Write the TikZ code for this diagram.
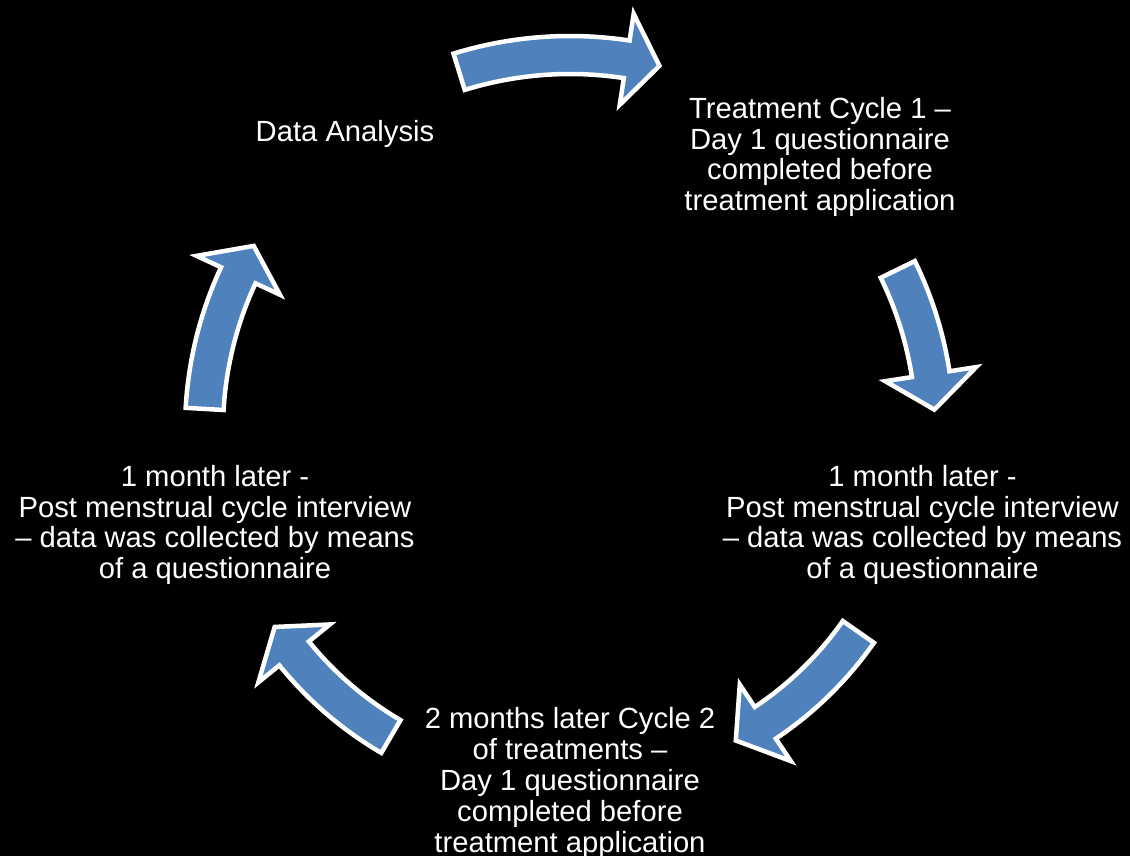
\documentclass[tikz,border=0pt]{standalone}
\usepackage{fontspec}
\setmainfont{Liberation Sans}
\usepackage{xcolor}
\usepackage{tikz}

\definecolor{cycleblue}{HTML}{4F81BD}
\tikzset{
  steptext/.style={text=white, align=center, inner sep=0pt,
    font=\fontsize{29.2}{30.8}\selectfont},
  cyclearrow/.style={fill=cycleblue, draw=white, line width=4.5pt},
}

\begin{document}
\begin{tikzpicture}[x=1pt,y=1pt]
  \fill[black] (0,0) rectangle (1130,856);
  \useasboundingbox (0,0) rectangle (1130,856);

  \node[steptext] (analysis) at (345,722) {Data Analysis};
  \node[steptext] (cycleone) at (820,699) {Treatment Cycle 1 --\\Day 1 questionnaire\\completed before\\treatment application};
  \node[steptext] (interviewone) at (922.5,331) {1 month later -\\Post menstrual cycle interview\\-- data was collected by means\\of a questionnaire};
  \node[steptext] (cycletwo) at (570,73) {2 months later Cycle 2\\of treatments --\\Day 1 questionnaire\\completed before\\treatment application};
  \node[steptext] (interviewtwo) at (215,331) {1 month later -\\Post menstrual cycle interview\\-- data was collected by means\\of a questionnaire};

  % curved arrows round the cycle: tail angle / head angle / tip angle / radius
  \begin{scope}[shift={(570,426)}]
    \foreach \a/\b/\t/\r in {107.2/81.3/76.2/375, 26.1/8.8/3.2/365,
                             -35/-56.3/-61.9/352, -120.3/-141/-146.3/355,
                             176.7/155/149.8/366} {
      \pgfmathsetmacro\ro{\r+19}
      \pgfmathsetmacro\ri{\r-19}
      \pgfmathsetmacro\bo{\r+46}
      \pgfmathsetmacro\bi{\r-46}
      \draw[cyclearrow] (\a:\ro pt) arc[start angle=\a, end angle=\b, radius=\ro pt]
        -- (\b:\bo pt) -- (\t:\r pt) -- (\b:\bi pt) -- (\b:\ri pt)
        arc[start angle=\b, end angle=\a, radius=\ri pt] -- cycle;
    }
  \end{scope}
\end{tikzpicture}
\end{document}
